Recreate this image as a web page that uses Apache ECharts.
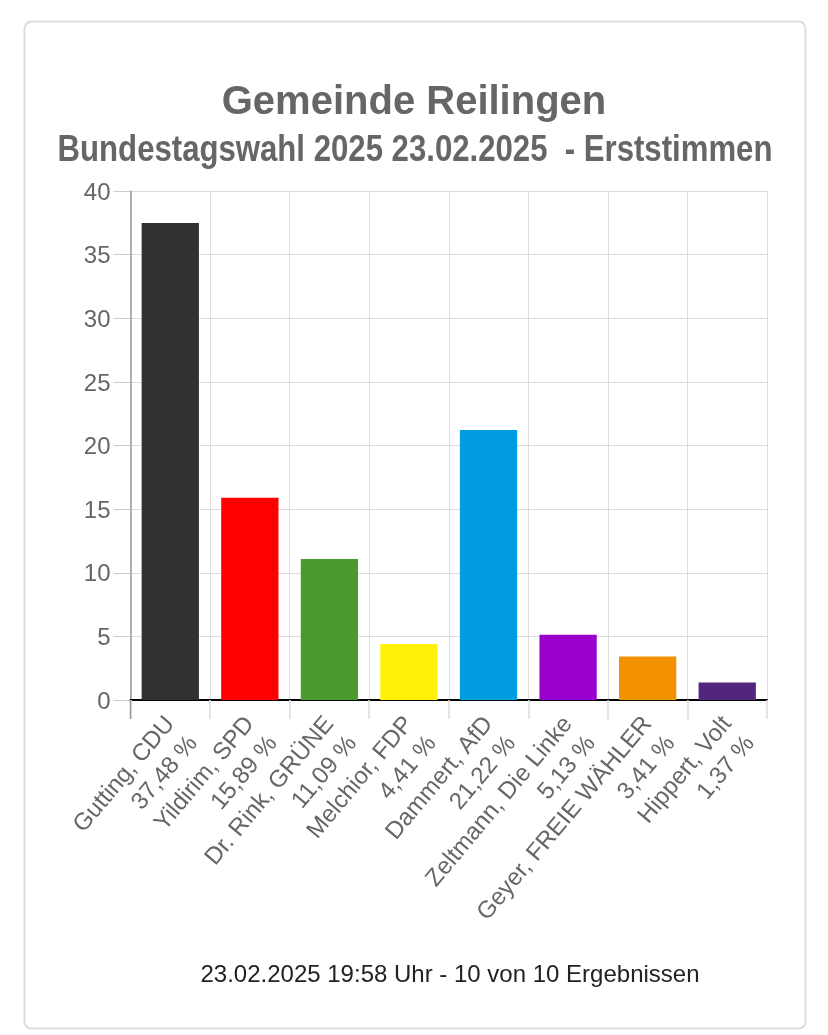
<!DOCTYPE html>
<html><head><meta charset="utf-8">
<style>html,body{margin:0;padding:0;background:#fff}#c{width:828px;height:1035px}</style>
<script src="https://cdn.jsdelivr.net/npm/echarts@6/dist/echarts.min.js"></script>
</head><body><div id="c"></div>
<script>
const candidates=["Gutting, CDU","Yildirim, SPD","Dr. Rink, GRÜNE","Melchior, FDP","Dammert, AfD","Zeltmann, Die Linke","Geyer, FREIE WÄHLER","Hippert, Volt"];
const percentLabels=["37,48 %","15,89 %","11,09 %","4,41 %","21,22 %","5,13 %","3,41 %","1,37 %"];
const values=[37.48,15.89,11.09,4.41,21.22,5.13,3.41,1.37];
const colors=["#32312f","#fe0000","#4b9a30","#fff10a","#009ee0","#9a00cc","#f39200","#52267f"];
const yTicks={min:0,max:40,interval:5};
const titleMain="Gemeinde Reilingen";
const titleSub="Bundestagswahl 2025 23.02.2025  - Erststimmen";
const footer="23.02.2025 19:58 Uhr - 10 von 10 Ergebnissen";
const cats=candidates.map((c,i)=>c+"\n"+percentLabels[i]);
const font="'Liberation Sans',Arial,sans-serif";
const chart=echarts.init(document.getElementById('c'),null,{renderer:'canvas'});
chart.setOption({
  animation:false,backgroundColor:'#fff',
  title:[
    {text:titleMain,left:409,textAlign:'center',top:78,textStyle:{fontFamily:font,fontSize:40,fontWeight:'bold',color:'#666'}},
    {text:footer,left:445,textAlign:'center',top:958,textStyle:{fontFamily:font,fontSize:24,fontWeight:'normal',color:'#222'}}
  ],
  graphic:[
    {type:'rect',z:-1,shape:{x:24.5,y:21.5,width:781,height:1007,r:7},style:{fill:'#fff',stroke:'#ddd',lineWidth:2}},
    {type:'text',x:415,y:151,scaleX:0.865,style:{text:titleSub,align:'center',verticalAlign:'middle',font:"bold 36px "+font,fill:'#666'}},
    {type:'line',z:5,shape:{x1:130.5,y1:700,x2:130.5,y2:719},style:{stroke:'#999',lineWidth:1.5}}
  ],
  grid:{left:130.5,right:61,top:191,height:509,containLabel:false},
  xAxis:{type:'category',data:cats,
    axisLine:{onZero:true,lineStyle:{color:'#000',width:2}},
    axisTick:{show:true,alignWithLabel:false,length:19,lineStyle:{color:'#ddd',width:1.5}},
    splitLine:{show:true,lineStyle:{color:'#ddd',width:1}},
    axisLabel:{rotate:50,interval:0,margin:20,fontFamily:font,fontSize:24,color:'#666',lineHeight:30,align:'right',verticalAlign:'middle',
      formatter:v=>"\n"+v}
  },
  yAxis:{type:'value',min:yTicks.min,max:yTicks.max,interval:yTicks.interval,
    axisLine:{show:true,lineStyle:{color:'#999',width:1.5}},
    axisTick:{show:true,length:17,lineStyle:{color:'#ccc',width:1}},
    splitLine:{show:true,lineStyle:{color:'#ddd',width:1}},
    axisLabel:{margin:20,color:'#666',formatter:v=>"{n|"+v+"}",
      rich:{n:{fontFamily:font,fontSize:24,color:'#666',padding:[4,0,0,0]}}}
  },
  series:[{type:'bar',barWidth:'72%',data:values.map((v,i)=>({value:v,itemStyle:{color:colors[i]}}))}]
});
</script></body></html>
